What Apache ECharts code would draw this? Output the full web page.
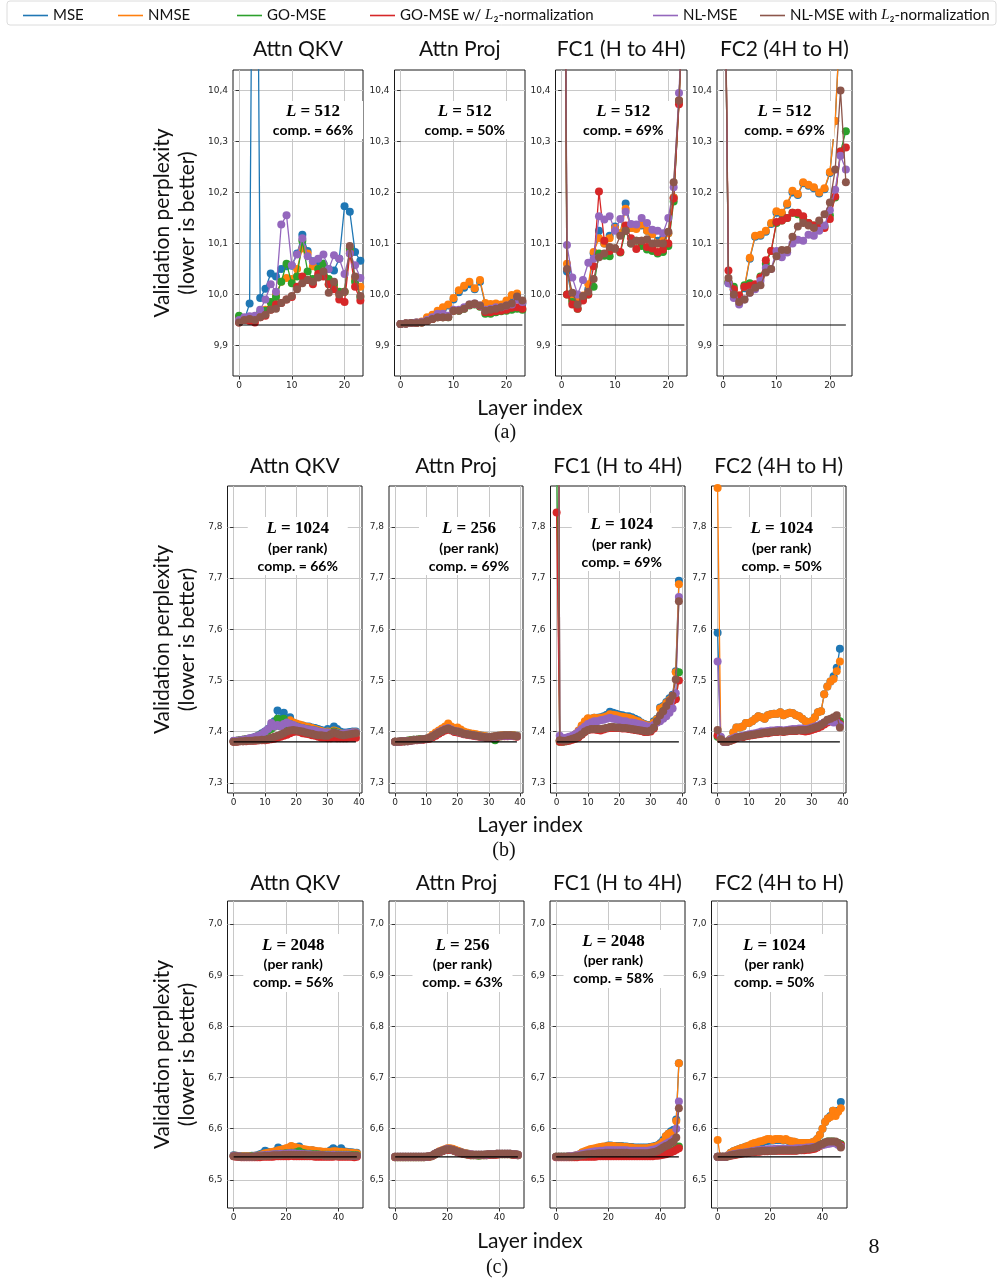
<!DOCTYPE html>
<html>
<head>
<meta charset="utf-8">
<title>Validation perplexity per layer</title>
<script src="https://cdn.jsdelivr.net/npm/echarts@6/dist/echarts.min.js"></script>
<style>
  html, body { margin: 0; padding: 0; background: #fff; }
  #chart { width: 1000px; height: 1280px; }
</style>
</head>
<body>
<div id="chart"></div>
<script>
const SERIES_NAMES = ['MSE', 'NMSE', 'GO-MSE', 'GO-MSE w/ L₂-normalization', 'NL-MSE', 'NL-MSE with L₂-normalization']
const COLORS = ['#1f77b4', '#ff7f0e', '#2ca02c', '#d62728', '#9467bd', '#8c564b']

// tick labels
const yTicksA = [9.9, 10.0, 10.1, 10.2, 10.3, 10.4]
const yTicksB = [7.3, 7.4, 7.5, 7.6, 7.7, 7.8]
const yTicksC = [6.5, 6.6, 6.7, 6.8, 6.9, 7.0]
const xTicksA = [0, 10, 20]
const xTicksB = [0, 10, 20, 30, 40]
const xTicksC = [0, 20, 40]

// dense (uncompressed) baseline perplexity per row
const BASELINES = [9.94, 7.38, 6.545]

// ---- (a) L = 512, 24 layers ----
const a_qkv_mse = [9.955, 9.950, 9.982, 11.50, 9.993, 10.011, 10.041, 10.035, 10.050, 10.055, 10.056, 10.080,
  10.117, 10.085, 10.065, 10.060, 10.060, 10.050, 10.047, 10.070, 10.173, 10.162, 10.083, 10.066]
const a_qkv_nmse = [9.955, 9.950, 9.952, 9.955, 9.960, 9.970, 9.985, 10.000, 10.025, 10.032, 10.030, 10.050,
  10.090, 10.080, 10.055, 10.050, 10.045, 10.020, 10.015, 10.000, 10.005, 10.085, 10.030, 10.015]
const a_qkv_gomse = [9.958, 9.950, 9.952, 9.955, 9.965, 9.968, 9.985, 9.995, 10.025, 10.060, 10.022, 10.035,
  10.105, 10.045, 10.030, 10.050, 10.060, 10.030, 10.020, 10.005, 10.005, 10.090, 10.025, 9.995]
const a_qkv_gol2 = [9.945, 9.950, 9.948, 9.945, 9.955, 9.958, 9.970, 9.980, 9.983, 9.990, 9.995, 10.015,
  10.035, 10.028, 10.020, 10.040, 10.035, 10.020, 10.010, 9.990, 9.985, 10.080, 10.015, 9.988]
const a_qkv_nlmse = [9.950, 9.955, 9.957, 9.958, 9.970, 9.990, 10.020, 10.005, 10.137, 10.155, 10.057, 10.078,
  10.110, 10.075, 10.065, 10.070, 10.078, 10.050, 10.077, 10.070, 10.040, 10.080, 10.057, 10.032]
const a_qkv_nll2 = [9.945, 9.950, 9.952, 9.950, 9.955, 9.960, 9.970, 9.972, 9.983, 9.990, 9.997, 10.010,
  10.022, 10.028, 10.025, 10.033, 10.045, 10.003, 10.025, 10.000, 10.005, 10.095, 10.035, 9.997]

const a_proj_mse = [9.942, 9.943, 9.944, 9.945, 9.946, 9.953, 9.958, 9.965, 9.972, 9.978, 9.990, 10.004,
  10.013, 10.020, 10.010, 10.025, 9.980, 9.978, 9.979, 9.978, 9.985, 9.995, 9.998, 9.982]
const a_proj_nmse = [9.942, 9.943, 9.944, 9.945, 9.947, 9.955, 9.960, 9.968, 9.975, 9.980, 9.993, 10.008,
  10.017, 10.025, 10.012, 10.028, 9.983, 9.981, 9.982, 9.980, 9.988, 9.999, 10.002, 9.985]
const a_proj_gomse = [9.942, 9.943, 9.944, 9.944, 9.945, 9.948, 9.952, 9.955, 9.955, 9.955, 9.968, 9.968,
  9.972, 9.978, 9.980, 9.976, 9.962, 9.962, 9.965, 9.967, 9.968, 9.970, 9.972, 9.970]
const a_proj_gol2 = [9.942, 9.943, 9.944, 9.944, 9.945, 9.948, 9.952, 9.955, 9.955, 9.956, 9.968, 9.969,
  9.973, 9.979, 9.981, 9.977, 9.965, 9.965, 9.967, 9.968, 9.970, 9.974, 9.975, 9.972]
const a_proj_nlmse = [9.942, 9.943, 9.944, 9.945, 9.946, 9.950, 9.955, 9.962, 9.962, 9.958, 9.970, 9.970,
  9.975, 9.980, 9.982, 9.978, 9.970, 9.972, 9.975, 9.975, 9.978, 9.980, 9.990, 9.985]
const a_proj_nll2 = [9.942, 9.943, 9.944, 9.944, 9.945, 9.948, 9.952, 9.955, 9.955, 9.955, 9.968, 9.968,
  9.972, 9.980, 9.982, 9.978, 9.968, 9.970, 9.972, 9.975, 9.978, 9.982, 9.996, 9.988]

const a_fc1_mse = [12.0, 10.045, 9.990, 9.985, 9.995, 10.010, 10.080, 10.125, 10.100, 10.115, 10.133, 10.120,
  10.178, 10.130, 10.130, 10.135, 10.125, 10.120, 10.105, 10.110, 10.120, 10.190, 10.380, 10.650]
const a_fc1_nmse = [12.0, 10.060, 9.990, 9.985, 9.998, 10.020, 10.083, 10.110, 10.100, 10.110, 10.130, 10.120,
  10.168, 10.130, 10.128, 10.137, 10.125, 10.118, 10.100, 10.105, 10.120, 10.190, 10.380, 10.650]
const a_fc1_gomse = [12.0, 10.000, 9.985, 9.972, 9.990, 10.000, 10.015, 10.080, 10.076, 10.075, 10.090, 10.082,
  10.125, 10.100, 10.105, 10.095, 10.088, 10.085, 10.080, 10.083, 10.095, 10.182, 10.378, 10.650]
const a_fc1_gol2 = [12.0, 10.000, 9.980, 9.972, 9.988, 10.000, 10.055, 10.202, 10.105, 10.085, 10.090, 10.083,
  10.135, 10.110, 10.089, 10.105, 10.093, 10.090, 10.083, 10.088, 10.100, 10.188, 10.373, 10.650]
const a_fc1_nlmse = [12.0, 10.097, 10.033, 10.000, 10.028, 10.062, 10.070, 10.153, 10.147, 10.153, 10.125, 10.148,
  10.162, 10.138, 10.137, 10.150, 10.140, 10.127, 10.125, 10.120, 10.150, 10.210, 10.395, 10.650]
const a_fc1_nll2 = [12.0, 10.050, 10.003, 9.980, 9.997, 10.005, 10.030, 10.073, 10.080, 10.093, 10.090, 10.115,
  10.125, 10.100, 10.105, 10.105, 10.108, 10.100, 10.100, 10.100, 10.123, 10.220, 10.380, 10.650]

const a_fc2_mse = [11.0, 10.022, 10.008, 9.995, 10.012, 10.070, 10.113, 10.115, 10.123, 10.138, 10.160, 10.158,
  10.176, 10.200, 10.195, 10.218, 10.213, 10.208, 10.198, 10.206, 10.238, 10.340, 10.550, 10.600]
const a_fc2_nmse = [11.0, 10.025, 10.010, 9.998, 10.015, 10.072, 10.115, 10.117, 10.125, 10.140, 10.163, 10.160,
  10.178, 10.203, 10.197, 10.220, 10.215, 10.210, 10.200, 10.208, 10.240, 10.340, 10.550, 10.600]
const a_fc2_gomse = [11.0, 10.025, 10.015, 9.990, 10.018, 10.022, 10.018, 10.035, 10.060, 10.085, 10.140, 10.145,
  10.150, 10.160, 10.157, 10.148, 10.140, 10.135, 10.130, 10.133, 10.155, 10.190, 10.280, 10.320]
const a_fc2_gol2 = [11.0, 10.047, 10.010, 9.998, 10.015, 10.017, 10.020, 10.033, 10.067, 10.085, 10.142, 10.145,
  10.150, 10.160, 10.160, 10.153, 10.140, 10.135, 10.130, 10.130, 10.148, 10.192, 10.280, 10.288]
const a_fc2_nlmse = [11.0, 10.022, 9.993, 9.980, 9.990, 10.003, 10.010, 10.027, 10.052, 10.050, 10.085, 10.073,
  10.082, 10.100, 10.107, 10.105, 10.117, 10.115, 10.125, 10.135, 10.165, 10.205, 10.272, 10.245]
const a_fc2_nll2 = [11.0, 10.032, 10.000, 9.985, 9.990, 10.003, 10.013, 10.018, 10.043, 10.050, 10.075, 10.087,
  10.087, 10.113, 10.133, 10.140, 10.135, 10.130, 10.145, 10.157, 10.180, 10.245, 10.400, 10.220]

// ---- (b) 40 layers ----
const b_qkv_mse = [7.381, 7.382, 7.383, 7.384, 7.385, 7.386, 7.388, 7.390, 7.393, 7.397,
  7.400, 7.405, 7.412, 7.420, 7.441, 7.425, 7.437, 7.420, 7.428, 7.418,
  7.415, 7.413, 7.412, 7.410, 7.410, 7.408, 7.407, 7.405, 7.403, 7.400,
  7.405, 7.400, 7.410, 7.405, 7.400, 7.398, 7.398, 7.399, 7.400, 7.400]
const b_qkv_nmse = [7.381, 7.382, 7.383, 7.384, 7.385, 7.386, 7.387, 7.389, 7.392, 7.395,
  7.398, 7.402, 7.406, 7.410, 7.414, 7.415, 7.418, 7.420, 7.422, 7.418,
  7.416, 7.414, 7.412, 7.410, 7.409, 7.407, 7.405, 7.403, 7.401, 7.399,
  7.400, 7.398, 7.402, 7.400, 7.397, 7.396, 7.396, 7.397, 7.398, 7.398]
const b_qkv_gomse = [7.381, 7.382, 7.383, 7.384, 7.385, 7.386, 7.387, 7.389, 7.392, 7.395,
  7.398, 7.402, 7.405, 7.410, 7.425, 7.410, 7.425, 7.412, 7.415, 7.412,
  7.410, 7.408, 7.407, 7.405, 7.404, 7.403, 7.402, 7.400, 7.398, 7.397,
  7.398, 7.396, 7.400, 7.398, 7.396, 7.395, 7.395, 7.396, 7.397, 7.397]
const b_qkv_gol2 = [7.380, 7.380, 7.381, 7.381, 7.381, 7.382, 7.382, 7.382, 7.383, 7.383,
  7.383, 7.384, 7.385, 7.386, 7.388, 7.390, 7.392, 7.394, 7.397, 7.399,
  7.400, 7.399, 7.397, 7.396, 7.395, 7.393, 7.392, 7.390, 7.388, 7.388,
  7.387, 7.387, 7.388, 7.387, 7.387, 7.387, 7.387, 7.388, 7.388, 7.388]
const b_qkv_nlmse = [7.382, 7.382, 7.383, 7.384, 7.385, 7.387, 7.388, 7.390, 7.392, 7.395,
  7.400, 7.405, 7.417, 7.410, 7.413, 7.410, 7.415, 7.418, 7.415, 7.413,
  7.410, 7.408, 7.407, 7.405, 7.404, 7.403, 7.402, 7.400, 7.399, 7.398,
  7.398, 7.397, 7.398, 7.397, 7.396, 7.396, 7.397, 7.397, 7.398, 7.398]
const b_qkv_nll2 = [7.380, 7.380, 7.381, 7.381, 7.382, 7.382, 7.382, 7.383, 7.383, 7.384,
  7.384, 7.385, 7.388, 7.390, 7.392, 7.394, 7.397, 7.400, 7.402, 7.403,
  7.402, 7.401, 7.400, 7.398, 7.397, 7.396, 7.394, 7.393, 7.393, 7.392,
  7.392, 7.395, 7.398, 7.396, 7.394, 7.393, 7.394, 7.395, 7.396, 7.397]

const b_proj_mse = [7.380, 7.380, 7.381, 7.381, 7.382, 7.383, 7.384, 7.384, 7.385, 7.385,
  7.386, 7.388, 7.392, 7.396, 7.400, 7.404, 7.408, 7.412, 7.408, 7.405,
  7.406, 7.403, 7.399, 7.397, 7.396, 7.395, 7.394, 7.393, 7.392, 7.391,
  7.390, 7.390, 7.391, 7.392, 7.393, 7.393, 7.393, 7.393, 7.393, 7.392]
const b_proj_nmse = [7.380, 7.380, 7.381, 7.381, 7.382, 7.383, 7.384, 7.384, 7.385, 7.385,
  7.386, 7.389, 7.394, 7.398, 7.402, 7.406, 7.410, 7.416, 7.410, 7.406,
  7.408, 7.404, 7.400, 7.398, 7.397, 7.396, 7.395, 7.393, 7.392, 7.391,
  7.390, 7.390, 7.391, 7.392, 7.393, 7.393, 7.393, 7.393, 7.393, 7.392]
const b_proj_gomse = [7.380, 7.380, 7.381, 7.381, 7.382, 7.383, 7.384, 7.384, 7.385, 7.385,
  7.386, 7.387, 7.390, 7.393, 7.397, 7.400, 7.403, 7.405, 7.403, 7.400,
  7.399, 7.398, 7.396, 7.395, 7.394, 7.393, 7.392, 7.391, 7.390, 7.389,
  7.389, 7.388, 7.383, 7.390, 7.391, 7.392, 7.392, 7.392, 7.392, 7.391]
const b_proj_gol2 = [7.380, 7.380, 7.380, 7.381, 7.381, 7.382, 7.383, 7.383, 7.384, 7.384,
  7.385, 7.386, 7.389, 7.392, 7.396, 7.399, 7.402, 7.404, 7.402, 7.399,
  7.398, 7.397, 7.395, 7.394, 7.393, 7.392, 7.391, 7.390, 7.389, 7.388,
  7.388, 7.388, 7.389, 7.390, 7.391, 7.391, 7.391, 7.392, 7.391, 7.390]
const b_proj_nlmse = [7.380, 7.380, 7.381, 7.381, 7.381, 7.382, 7.383, 7.384, 7.384, 7.385,
  7.386, 7.388, 7.391, 7.395, 7.399, 7.402, 7.405, 7.407, 7.404, 7.401,
  7.400, 7.398, 7.396, 7.395, 7.394, 7.393, 7.392, 7.391, 7.390, 7.389,
  7.389, 7.389, 7.390, 7.391, 7.392, 7.392, 7.392, 7.392, 7.392, 7.391]
const b_proj_nll2 = [7.380, 7.380, 7.381, 7.381, 7.381, 7.382, 7.383, 7.384, 7.384, 7.385,
  7.386, 7.388, 7.391, 7.395, 7.398, 7.401, 7.404, 7.406, 7.403, 7.401,
  7.400, 7.398, 7.396, 7.395, 7.394, 7.393, 7.392, 7.391, 7.390, 7.389,
  7.389, 7.390, 7.391, 7.392, 7.392, 7.393, 7.393, 7.393, 7.392, 7.391]

const b_fc1_mse = [9.500, 7.383, 7.382, 7.383, 7.386, 7.390, 7.395, 7.400, 7.410, 7.418,
  7.425, 7.425, 7.427, 7.427, 7.428, 7.430, 7.433, 7.439, 7.437, 7.435,
  7.433, 7.432, 7.430, 7.430, 7.428, 7.425, 7.422, 7.418, 7.415, 7.413,
  7.413, 7.420, 7.425, 7.447, 7.450, 7.458, 7.465, 7.472, 7.518, 7.695]
const b_fc1_nmse = [9.500, 7.383, 7.382, 7.383, 7.386, 7.390, 7.395, 7.402, 7.412, 7.420,
  7.426, 7.425, 7.427, 7.426, 7.427, 7.428, 7.430, 7.434, 7.433, 7.432,
  7.430, 7.429, 7.428, 7.427, 7.425, 7.422, 7.420, 7.417, 7.414, 7.412,
  7.412, 7.418, 7.424, 7.445, 7.448, 7.456, 7.462, 7.470, 7.516, 7.688]
const b_fc1_gomse = [7.950, 7.380, 7.380, 7.381, 7.383, 7.385, 7.387, 7.390, 7.395, 7.400,
  7.405, 7.405, 7.405, 7.405, 7.403, 7.405, 7.407, 7.408, 7.408, 7.408,
  7.408, 7.407, 7.407, 7.406, 7.405, 7.404, 7.403, 7.402, 7.400, 7.400,
  7.402, 7.408, 7.420, 7.430, 7.440, 7.445, 7.455, 7.462, 7.465, 7.516]
const b_fc1_gol2 = [7.828, 7.380, 7.380, 7.381, 7.382, 7.384, 7.386, 7.389, 7.394, 7.399,
  7.403, 7.404, 7.404, 7.403, 7.402, 7.404, 7.406, 7.407, 7.407, 7.407,
  7.407, 7.406, 7.406, 7.405, 7.404, 7.403, 7.402, 7.401, 7.399, 7.399,
  7.400, 7.406, 7.418, 7.428, 7.438, 7.443, 7.452, 7.460, 7.463, 7.500]
const b_fc1_nlmse = [9.500, 7.392, 7.387, 7.388, 7.390, 7.392, 7.395, 7.400, 7.405, 7.410,
  7.415, 7.418, 7.420, 7.420, 7.422, 7.423, 7.425, 7.427, 7.425, 7.424,
  7.422, 7.420, 7.420, 7.418, 7.418, 7.417, 7.415, 7.414, 7.412, 7.410,
  7.410, 7.413, 7.418, 7.420, 7.425, 7.430, 7.437, 7.445, 7.475, 7.663]
const b_fc1_nll2 = [9.500, 7.383, 7.382, 7.382, 7.384, 7.386, 7.388, 7.391, 7.395, 7.400,
  7.403, 7.405, 7.405, 7.405, 7.405, 7.406, 7.407, 7.409, 7.409, 7.408,
  7.408, 7.407, 7.407, 7.406, 7.405, 7.404, 7.403, 7.402, 7.401, 7.400,
  7.402, 7.408, 7.420, 7.432, 7.440, 7.450, 7.460, 7.470, 7.502, 7.655]

const b_fc2_mse = [7.593, 7.388, 7.380, 7.380, 7.385, 7.398, 7.408, 7.408, 7.410, 7.417,
  7.417, 7.420, 7.425, 7.430, 7.428, 7.425, 7.432, 7.434, 7.435, 7.435,
  7.438, 7.432, 7.435, 7.437, 7.436, 7.432, 7.430, 7.425, 7.420, 7.418,
  7.420, 7.428, 7.438, 7.440, 7.473, 7.488, 7.498, 7.508, 7.525, 7.562]
const b_fc2_nmse = [7.876, 7.388, 7.380, 7.380, 7.385, 7.398, 7.408, 7.408, 7.410, 7.417,
  7.417, 7.420, 7.425, 7.430, 7.428, 7.425, 7.432, 7.434, 7.435, 7.435,
  7.438, 7.432, 7.435, 7.437, 7.436, 7.432, 7.430, 7.425, 7.420, 7.418,
  7.420, 7.428, 7.438, 7.440, 7.473, 7.488, 7.498, 7.503, 7.518, 7.537]
const b_fc2_gomse = [7.390, 7.385, 7.380, 7.380, 7.382, 7.385, 7.388, 7.390, 7.390, 7.392,
  7.393, 7.394, 7.395, 7.396, 7.397, 7.398, 7.398, 7.399, 7.400, 7.400,
  7.401, 7.400, 7.401, 7.402, 7.402, 7.402, 7.403, 7.403, 7.402, 7.403,
  7.405, 7.407, 7.409, 7.412, 7.416, 7.420, 7.422, 7.424, 7.425, 7.420]
const b_fc2_gol2 = [7.393, 7.385, 7.380, 7.380, 7.382, 7.384, 7.387, 7.389, 7.389, 7.391,
  7.392, 7.393, 7.394, 7.395, 7.396, 7.397, 7.397, 7.398, 7.399, 7.399,
  7.400, 7.399, 7.400, 7.401, 7.401, 7.401, 7.402, 7.401, 7.400, 7.401,
  7.403, 7.405, 7.407, 7.410, 7.414, 7.418, 7.420, 7.421, 7.422, 7.415]
const b_fc2_nlmse = [7.537, 7.390, 7.380, 7.380, 7.384, 7.387, 7.390, 7.390, 7.392, 7.393,
  7.395, 7.396, 7.397, 7.398, 7.400, 7.400, 7.401, 7.402, 7.402, 7.403,
  7.403, 7.402, 7.403, 7.404, 7.405, 7.405, 7.406, 7.406, 7.405, 7.406,
  7.408, 7.410, 7.412, 7.415, 7.418, 7.420, 7.420, 7.418, 7.418, 7.413]
const b_fc2_nll2 = [7.403, 7.385, 7.380, 7.380, 7.382, 7.385, 7.388, 7.390, 7.390, 7.392,
  7.393, 7.394, 7.395, 7.396, 7.397, 7.398, 7.398, 7.399, 7.400, 7.400,
  7.401, 7.400, 7.401, 7.402, 7.402, 7.402, 7.403, 7.403, 7.403, 7.404,
  7.406, 7.408, 7.410, 7.413, 7.418, 7.423, 7.425, 7.428, 7.432, 7.408]

// ---- (c) 48 layers ----
const c_qkv_mse = [6.548, 6.547, 6.546, 6.546, 6.546, 6.546, 6.546, 6.547, 6.547, 6.548, 6.550, 6.552,
  6.557, 6.555, 6.553, 6.554, 6.556, 6.563, 6.558, 6.560, 6.561, 6.562, 6.565, 6.560,
  6.561, 6.565, 6.560, 6.558, 6.557, 6.556, 6.558, 6.556, 6.555, 6.555, 6.554, 6.554,
  6.555, 6.558, 6.562, 6.558, 6.557, 6.562, 6.556, 6.555, 6.554, 6.554, 6.553, 6.553]
const c_qkv_nmse = [6.547, 6.547, 6.546, 6.546, 6.546, 6.546, 6.546, 6.546, 6.547, 6.547, 6.548, 6.550,
  6.552, 6.553, 6.554, 6.555, 6.556, 6.558, 6.559, 6.560, 6.562, 6.563, 6.566, 6.564,
  6.563, 6.562, 6.561, 6.560, 6.559, 6.558, 6.558, 6.557, 6.556, 6.556, 6.555, 6.555,
  6.555, 6.555, 6.556, 6.556, 6.555, 6.555, 6.554, 6.554, 6.553, 6.553, 6.552, 6.552]
const c_qkv_gomse = [6.547, 6.546, 6.546, 6.545, 6.545, 6.545, 6.545, 6.546, 6.546, 6.546, 6.547, 6.547,
  6.548, 6.548, 6.549, 6.549, 6.550, 6.550, 6.551, 6.551, 6.552, 6.552, 6.553, 6.553,
  6.554, 6.556, 6.553, 6.552, 6.551, 6.551, 6.550, 6.550, 6.550, 6.549, 6.549, 6.549,
  6.549, 6.549, 6.549, 6.549, 6.549, 6.549, 6.549, 6.549, 6.549, 6.548, 6.548, 6.548]
const c_qkv_gol2 = [6.546, 6.545, 6.545, 6.544, 6.544, 6.544, 6.544, 6.544, 6.544, 6.544, 6.544, 6.545,
  6.545, 6.545, 6.545, 6.545, 6.546, 6.546, 6.546, 6.546, 6.546, 6.546, 6.547, 6.546,
  6.546, 6.546, 6.546, 6.546, 6.546, 6.546, 6.546, 6.545, 6.545, 6.545, 6.545, 6.545,
  6.545, 6.545, 6.545, 6.546, 6.545, 6.545, 6.545, 6.545, 6.545, 6.545, 6.544, 6.545]
const c_qkv_nlmse = [6.547, 6.546, 6.546, 6.545, 6.545, 6.545, 6.545, 6.545, 6.546, 6.546, 6.547, 6.548,
  6.548, 6.549, 6.549, 6.550, 6.550, 6.550, 6.551, 6.551, 6.551, 6.552, 6.552, 6.552,
  6.551, 6.551, 6.551, 6.550, 6.550, 6.550, 6.549, 6.549, 6.549, 6.549, 6.548, 6.548,
  6.548, 6.548, 6.549, 6.548, 6.548, 6.548, 6.548, 6.548, 6.548, 6.547, 6.547, 6.547]
const c_qkv_nll2 = [6.546, 6.546, 6.545, 6.545, 6.545, 6.545, 6.545, 6.545, 6.545, 6.546, 6.546, 6.546,
  6.547, 6.547, 6.547, 6.548, 6.548, 6.548, 6.548, 6.549, 6.549, 6.549, 6.549, 6.549,
  6.549, 6.549, 6.549, 6.549, 6.548, 6.548, 6.548, 6.548, 6.548, 6.548, 6.548, 6.547,
  6.547, 6.547, 6.547, 6.547, 6.547, 6.547, 6.547, 6.547, 6.547, 6.547, 6.547, 6.547]

const c_proj_mse = [6.545, 6.545, 6.545, 6.545, 6.545, 6.545, 6.545, 6.545, 6.545, 6.545, 6.545, 6.545,
  6.545, 6.546, 6.547, 6.550, 6.553, 6.555, 6.557, 6.559, 6.561, 6.561, 6.560, 6.558,
  6.556, 6.555, 6.553, 6.552, 6.551, 6.550, 6.549, 6.549, 6.549, 6.549, 6.549, 6.549,
  6.550, 6.550, 6.550, 6.551, 6.551, 6.551, 6.551, 6.551, 6.551, 6.550, 6.550, 6.549]
const c_proj_nmse = [6.545, 6.545, 6.545, 6.545, 6.545, 6.545, 6.545, 6.545, 6.545, 6.545, 6.545, 6.545,
  6.545, 6.546, 6.547, 6.550, 6.553, 6.556, 6.558, 6.560, 6.562, 6.562, 6.561, 6.559,
  6.557, 6.555, 6.553, 6.552, 6.551, 6.550, 6.549, 6.549, 6.549, 6.549, 6.549, 6.549,
  6.550, 6.550, 6.550, 6.551, 6.551, 6.551, 6.551, 6.551, 6.551, 6.550, 6.550, 6.549]
const c_proj_gomse = [6.544, 6.544, 6.544, 6.544, 6.544, 6.544, 6.544, 6.544, 6.544, 6.544, 6.544, 6.544,
  6.545, 6.545, 6.546, 6.549, 6.552, 6.554, 6.556, 6.558, 6.559, 6.559, 6.558, 6.556,
  6.554, 6.553, 6.551, 6.550, 6.549, 6.548, 6.548, 6.548, 6.547, 6.548, 6.548, 6.548,
  6.549, 6.549, 6.549, 6.550, 6.550, 6.550, 6.550, 6.550, 6.550, 6.549, 6.549, 6.548]
const c_proj_gol2 = [6.544, 6.544, 6.544, 6.544, 6.544, 6.544, 6.544, 6.544, 6.544, 6.544, 6.544, 6.544,
  6.545, 6.545, 6.546, 6.549, 6.552, 6.554, 6.556, 6.558, 6.559, 6.559, 6.558, 6.556,
  6.554, 6.552, 6.551, 6.550, 6.549, 6.548, 6.548, 6.548, 6.548, 6.548, 6.548, 6.548,
  6.549, 6.549, 6.549, 6.549, 6.550, 6.550, 6.550, 6.550, 6.550, 6.549, 6.549, 6.548]
const c_proj_nlmse = [6.545, 6.545, 6.545, 6.545, 6.545, 6.545, 6.545, 6.545, 6.545, 6.545, 6.545, 6.545,
  6.545, 6.546, 6.547, 6.550, 6.553, 6.555, 6.557, 6.559, 6.561, 6.560, 6.559, 6.557,
  6.555, 6.554, 6.552, 6.551, 6.550, 6.550, 6.549, 6.549, 6.549, 6.549, 6.549, 6.549,
  6.550, 6.550, 6.550, 6.551, 6.551, 6.551, 6.551, 6.551, 6.551, 6.550, 6.550, 6.549]
const c_proj_nll2 = [6.545, 6.545, 6.545, 6.545, 6.545, 6.545, 6.545, 6.545, 6.545, 6.545, 6.545, 6.545,
  6.545, 6.546, 6.547, 6.550, 6.553, 6.555, 6.557, 6.559, 6.560, 6.560, 6.559, 6.557,
  6.555, 6.554, 6.552, 6.551, 6.550, 6.549, 6.549, 6.549, 6.549, 6.549, 6.549, 6.550,
  6.550, 6.550, 6.550, 6.551, 6.551, 6.551, 6.551, 6.551, 6.551, 6.550, 6.550, 6.549]

const c_fc1_mse = [6.545, 6.545, 6.545, 6.545, 6.545, 6.546, 6.546, 6.547, 6.548, 6.550, 6.553, 6.555,
  6.557, 6.559, 6.560, 6.561, 6.562, 6.563, 6.564, 6.565, 6.567, 6.567, 6.566, 6.566,
  6.566, 6.566, 6.565, 6.565, 6.564, 6.564, 6.563, 6.563, 6.563, 6.563, 6.563, 6.563,
  6.564, 6.565, 6.566, 6.568, 6.572, 6.578, 6.585, 6.590, 6.595, 6.598, 6.618, 6.728]
const c_fc1_nmse = [6.545, 6.545, 6.545, 6.545, 6.545, 6.546, 6.546, 6.547, 6.548, 6.550, 6.554, 6.556,
  6.558, 6.560, 6.561, 6.562, 6.563, 6.564, 6.565, 6.565, 6.566, 6.566, 6.566, 6.565,
  6.565, 6.565, 6.564, 6.564, 6.563, 6.563, 6.562, 6.562, 6.562, 6.562, 6.562, 6.562,
  6.563, 6.564, 6.565, 6.567, 6.570, 6.575, 6.585, 6.590, 6.592, 6.593, 6.615, 6.728]
const c_fc1_gomse = [6.545, 6.545, 6.545, 6.545, 6.545, 6.545, 6.545, 6.546, 6.546, 6.547, 6.547, 6.548,
  6.548, 6.549, 6.549, 6.549, 6.550, 6.550, 6.550, 6.550, 6.550, 6.550, 6.550, 6.550,
  6.550, 6.550, 6.550, 6.550, 6.549, 6.549, 6.549, 6.549, 6.549, 6.549, 6.549, 6.549,
  6.549, 6.550, 6.550, 6.551, 6.551, 6.552, 6.553, 6.554, 6.556, 6.558, 6.561, 6.565]
const c_fc1_gol2 = [6.544, 6.544, 6.544, 6.544, 6.544, 6.544, 6.544, 6.544, 6.544, 6.545, 6.545, 6.545,
  6.545, 6.545, 6.545, 6.545, 6.546, 6.546, 6.546, 6.546, 6.546, 6.546, 6.546, 6.546,
  6.546, 6.546, 6.546, 6.546, 6.546, 6.546, 6.546, 6.546, 6.546, 6.546, 6.546, 6.546,
  6.546, 6.546, 6.547, 6.547, 6.548, 6.549, 6.550, 6.552, 6.554, 6.556, 6.559, 6.562]
const c_fc1_nlmse = [6.545, 6.545, 6.545, 6.545, 6.545, 6.546, 6.546, 6.547, 6.548, 6.549, 6.551, 6.552,
  6.553, 6.554, 6.555, 6.556, 6.556, 6.557, 6.557, 6.558, 6.558, 6.558, 6.558, 6.558,
  6.558, 6.558, 6.558, 6.558, 6.557, 6.557, 6.557, 6.557, 6.557, 6.557, 6.557, 6.557,
  6.558, 6.559, 6.560, 6.562, 6.564, 6.567, 6.570, 6.573, 6.575, 6.580, 6.600, 6.653]
const c_fc1_nll2 = [6.545, 6.545, 6.545, 6.545, 6.545, 6.545, 6.545, 6.546, 6.546, 6.547, 6.548, 6.549,
  6.550, 6.550, 6.551, 6.551, 6.552, 6.552, 6.552, 6.553, 6.553, 6.553, 6.553, 6.553,
  6.553, 6.553, 6.553, 6.553, 6.552, 6.552, 6.552, 6.552, 6.552, 6.552, 6.552, 6.552,
  6.553, 6.554, 6.555, 6.557, 6.560, 6.563, 6.566, 6.568, 6.572, 6.575, 6.583, 6.640]

const c_fc2_mse = [6.545, 6.545, 6.545, 6.545, 6.548, 6.553, 6.556, 6.558, 6.560, 6.562, 6.563, 6.565,
  6.566, 6.568, 6.570, 6.571, 6.572, 6.573, 6.575, 6.576, 6.577, 6.577, 6.578, 6.578,
  6.578, 6.577, 6.578, 6.576, 6.575, 6.574, 6.573, 6.572, 6.572, 6.572, 6.572, 6.572,
  6.573, 6.575, 6.580, 6.588, 6.600, 6.613, 6.620, 6.625, 6.635, 6.628, 6.635, 6.652]
const c_fc2_nmse = [6.578, 6.545, 6.545, 6.545, 6.548, 6.553, 6.556, 6.558, 6.560, 6.562, 6.563, 6.565,
  6.567, 6.570, 6.572, 6.573, 6.575, 6.576, 6.578, 6.580, 6.580, 6.578, 6.580, 6.580,
  6.580, 6.578, 6.580, 6.577, 6.575, 6.575, 6.573, 6.572, 6.572, 6.572, 6.572, 6.572,
  6.573, 6.575, 6.580, 6.588, 6.600, 6.613, 6.620, 6.623, 6.635, 6.625, 6.633, 6.640]
const c_fc2_gomse = [6.545, 6.545, 6.545, 6.545, 6.546, 6.548, 6.549, 6.550, 6.551, 6.552, 6.553, 6.553,
  6.554, 6.555, 6.555, 6.556, 6.556, 6.557, 6.557, 6.557, 6.558, 6.558, 6.558, 6.558,
  6.558, 6.558, 6.558, 6.558, 6.558, 6.558, 6.558, 6.559, 6.559, 6.559, 6.560, 6.560,
  6.561, 6.562, 6.564, 6.567, 6.570, 6.573, 6.575, 6.575, 6.575, 6.574, 6.572, 6.570]
const c_fc2_gol2 = [6.545, 6.545, 6.545, 6.545, 6.546, 6.547, 6.548, 6.549, 6.550, 6.551, 6.552, 6.552,
  6.553, 6.554, 6.554, 6.555, 6.555, 6.556, 6.556, 6.556, 6.557, 6.557, 6.557, 6.557,
  6.557, 6.557, 6.557, 6.557, 6.557, 6.557, 6.557, 6.558, 6.558, 6.558, 6.559, 6.559,
  6.560, 6.561, 6.563, 6.566, 6.569, 6.572, 6.574, 6.574, 6.574, 6.573, 6.570, 6.568]
const c_fc2_nlmse = [6.545, 6.545, 6.545, 6.545, 6.547, 6.549, 6.550, 6.551, 6.552, 6.553, 6.553, 6.554,
  6.555, 6.556, 6.557, 6.558, 6.558, 6.559, 6.559, 6.560, 6.560, 6.560, 6.561, 6.561,
  6.561, 6.561, 6.561, 6.561, 6.561, 6.561, 6.562, 6.562, 6.562, 6.562, 6.563, 6.563,
  6.564, 6.564, 6.565, 6.567, 6.568, 6.569, 6.570, 6.571, 6.572, 6.571, 6.568, 6.565]
const c_fc2_nll2 = [6.545, 6.545, 6.545, 6.545, 6.546, 6.548, 6.549, 6.550, 6.551, 6.552, 6.552, 6.553,
  6.554, 6.555, 6.555, 6.556, 6.556, 6.557, 6.557, 6.557, 6.557, 6.557, 6.557, 6.558,
  6.558, 6.558, 6.558, 6.558, 6.558, 6.558, 6.558, 6.559, 6.559, 6.560, 6.561, 6.561,
  6.562, 6.563, 6.565, 6.568, 6.570, 6.573, 6.575, 6.575, 6.575, 6.575, 6.572, 6.563]

const PANEL_TITLES = ['Attn QKV', 'Attn Proj', 'FC1 (H to 4H)', 'FC2 (4H to H)']
const PANELS = [
  { row: 0, col: 0, L: '512', comp: '66%', values: [a_qkv_mse, a_qkv_nmse, a_qkv_gomse, a_qkv_gol2, a_qkv_nlmse, a_qkv_nll2] },
  { row: 0, col: 1, L: '512', comp: '50%', values: [a_proj_mse, a_proj_nmse, a_proj_gomse, a_proj_gol2, a_proj_nlmse, a_proj_nll2] },
  { row: 0, col: 2, L: '512', comp: '69%', values: [a_fc1_mse, a_fc1_nmse, a_fc1_gomse, a_fc1_gol2, a_fc1_nlmse, a_fc1_nll2] },
  { row: 0, col: 3, L: '512', comp: '69%', values: [a_fc2_mse, a_fc2_nmse, a_fc2_gomse, a_fc2_gol2, a_fc2_nlmse, a_fc2_nll2] },
  { row: 1, col: 0, L: '1024', comp: '66%', values: [b_qkv_mse, b_qkv_nmse, b_qkv_gomse, b_qkv_gol2, b_qkv_nlmse, b_qkv_nll2] },
  { row: 1, col: 1, L: '256', comp: '69%', values: [b_proj_mse, b_proj_nmse, b_proj_gomse, b_proj_gol2, b_proj_nlmse, b_proj_nll2] },
  { row: 1, col: 2, L: '1024', comp: '69%', values: [b_fc1_mse, b_fc1_nmse, b_fc1_gomse, b_fc1_gol2, b_fc1_nlmse, b_fc1_nll2] },
  { row: 1, col: 3, L: '1024', comp: '50%', values: [b_fc2_mse, b_fc2_nmse, b_fc2_gomse, b_fc2_gol2, b_fc2_nlmse, b_fc2_nll2] },
  { row: 2, col: 0, L: '2048', comp: '56%', values: [c_qkv_mse, c_qkv_nmse, c_qkv_gomse, c_qkv_gol2, c_qkv_nlmse, c_qkv_nll2] },
  { row: 2, col: 1, L: '256', comp: '63%', values: [c_proj_mse, c_proj_nmse, c_proj_gomse, c_proj_gol2, c_proj_nlmse, c_proj_nll2] },
  { row: 2, col: 2, L: '2048', comp: '58%', values: [c_fc1_mse, c_fc1_nmse, c_fc1_gomse, c_fc1_gol2, c_fc1_nlmse, c_fc1_nll2] },
  { row: 2, col: 3, L: '1024', comp: '50%', values: [c_fc2_mse, c_fc2_nmse, c_fc2_gomse, c_fc2_gol2, c_fc2_nlmse, c_fc2_nll2] }
]

// layout of the three rows of panels (pixels)
const ROWS = [
  { top: 70, bottom: 376, yMin: 9.84, yMax: 10.44, yTicks: yTicksA, xMin: -1.15, xTicks: xTicksA,
    cols: [[233, 363, 23.5], [394.5, 525, 23.5], [555.5, 687, 23.5], [717, 852, 24.15]],
    titleY: 49, boxTop: 101, lineY: [112, 130], shortBox: true, axisNameY: 408, tagY: 433, tag: '(a)', tagX: 505 },
  { top: 486, bottom: 793, yMin: 7.28, yMax: 7.88, yTicks: yTicksB, xMin: -1.95, xTicks: xTicksB,
    cols: [[227.5, 362, 40.95], [389, 523, 40.95], [550.5, 685, 40.95], [711.5, 846, 40.95]],
    titleY: 466, boxTop: 517, lineY: [529, 548, 566], shortBox: false, axisNameY: 825, tagY: 851, tag: '(b)', tagX: 504 },
  { top: 901, bottom: 1208, yMin: 6.445, yMax: 7.045, yTicks: yTicksC, xMin: -2.35, xTicks: xTicksC,
    cols: [[227.5, 363, 49.35], [389, 524, 49.35], [550, 685, 49.35], [711.5, 847, 49.35]],
    titleY: 883, boxTop: 934, lineY: [946, 964, 982], shortBox: false, axisNameY: 1241, tagY: 1268, tag: '(c)', tagX: 497 }
]
const BOX_CENTER_SHIFT = [[15, 5, 2, 0], [3, 13, 4, 3], [-2, 6, -4, -5]]
const FC1_LIFT = [0, 4, 4]

const SANS = 'Lato, "Open Sans", sans-serif'
const SERIF = '"Liberation Serif", "DejaVu Serif", serif'

const chart = echarts.init(document.getElementById('chart'))

const grids = []
const xAxes = []
const yAxes = []
const series = []
const graphics = []

// legend frame
graphics.push({ type: 'rect', z: 0, shape: { x: 7, y: 1, width: 989, height: 24, r: 3 },
  style: { fill: '#fff', stroke: '#dcdcdc', lineWidth: 1 } })

PANELS.forEach((p, k) => {
  const row = ROWS[p.row]
  const [left, right, xMax] = row.cols[p.col]
  const fmtY = v => v.toFixed(1).replace('.', ',')
  grids.push({
    left: left, top: row.top, width: right - left, height: row.bottom - row.top,
    show: true, borderColor: '#1a1a1a', borderWidth: 1, backgroundColor: '#fff',
    containLabel: false, outerBoundsMode: 'none'
  })
  xAxes.push({
    type: 'value', gridIndex: k, min: row.xMin, max: xMax,
    axisLine: { show: false },
    axisTick: { show: true, inside: false, length: 3.5, customValues: row.xTicks, lineStyle: { color: '#333' } },
    axisLabel: { customValues: row.xTicks, fontSize: 9, fontFamily: '"DejaVu Sans", sans-serif', color: '#262626', margin: 5 },
    splitLine: { show: true, lineStyle: { color: '#c8c8c8', width: 1 } }
  })
  yAxes.push({
    type: 'value', gridIndex: k, min: row.yMin, max: row.yMax,
    axisLine: { show: false },
    axisTick: { show: true, inside: false, length: 3.5, customValues: row.yTicks, lineStyle: { color: '#333' } },
    axisLabel: { customValues: row.yTicks, formatter: fmtY, fontSize: 9, fontFamily: '"DejaVu Sans", sans-serif', color: '#262626', margin: 5 },
    splitLine: { show: true, lineStyle: { color: '#c8c8c8', width: 1 } }
  })
  p.values.forEach((vals, s) => {
    series.push({
      name: SERIES_NAMES[s], type: 'line', xAxisIndex: k, yAxisIndex: k,
      data: vals.map((v, i) => [i, v]),
      symbol: 'circle', symbolSize: 8, showSymbol: true, clip: true,
      z: 2 + s,
      lineStyle: { color: COLORS[s], width: 1.3 },
      itemStyle: { color: COLORS[s] },
      emphasis: { disabled: true }, animation: false, silent: true
    })
  })
  const last = p.values[0].length - 1
  series.push({
    name: 'baseline', type: 'line', xAxisIndex: k, yAxisIndex: k,
    data: [[0, BASELINES[p.row]], [last, BASELINES[p.row]]],
    showSymbol: false, z: 20, lineStyle: { color: '#000', width: 1.2 },
    emphasis: { disabled: true }, animation: false, silent: true
  })

  // panel title
  graphics.push({ type: 'text', z: 60, x: (left + right) / 2, y: row.titleY,
    style: { text: PANEL_TITLES[p.col], font: '21px ' + SANS, fill: '#111', align: 'center', verticalAlign: 'middle' } })

  // annotation box
  const cx = (left + right) / 2 + BOX_CENTER_SHIFT[p.row][p.col]
  const lift = p.col === 2 ? FC1_LIFT[p.row] : 0
  const boxH = row.shortBox ? 38 : 58
  graphics.push({ type: 'rect', z: 50, shape: { x: cx - 50, y: row.boxTop - lift, width: 100, height: boxH },
    style: { fill: '#fff' } })
  const lines = row.shortBox
    ? ['{i|L}{m| = ' + p.L + '}', '{c|comp. = ' + p.comp + '}']
    : ['{i|L}{m| = ' + p.L + '}', '{c|(per rank)}', '{c|comp. = ' + p.comp + '}']
  lines.forEach((t, j) => {
    graphics.push({ type: 'text', z: 55, x: cx, y: row.lineY[j] - lift,
      style: {
        text: t, align: 'center', verticalAlign: 'middle',
        rich: {
          i: { fontFamily: SERIF, fontStyle: 'italic', fontWeight: 'bold', fontSize: 17, fill: '#000' },
          m: { fontFamily: SERIF, fontWeight: 'bold', fontSize: 17, fill: '#000' },
          c: { fontFamily: SANS, fontWeight: 'bold', fontSize: 14, fill: '#000' }
        }
      } })
  })
})

// row-level texts
ROWS.forEach(row => {
  const midY = (row.top + row.bottom) / 2
  graphics.push({ type: 'text', z: 60, x: 175, y: midY, rotation: Math.PI / 2,
    style: { text: 'Validation perplexity\n(lower is better)', font: '21px ' + SANS, fill: '#111',
      align: 'center', verticalAlign: 'middle', lineHeight: 25 } })
  graphics.push({ type: 'text', z: 60, x: 530, y: row.axisNameY,
    style: { text: 'Layer index', font: '21px ' + SANS, fill: '#111', align: 'center', verticalAlign: 'middle' } })
  graphics.push({ type: 'text', z: 60, x: row.tagX, y: row.tagY,
    style: { text: row.tag, font: '20px ' + SERIF, fill: '#111', align: 'center', verticalAlign: 'middle' } })
})
graphics.push({ type: 'text', z: 60, x: 874, y: 1247,
  style: { text: '8', font: '22px ' + SERIF, fill: '#111', align: 'center', verticalAlign: 'middle' } })

const LEGEND_X = [18, 113, 232, 365, 648, 755]
const legends = SERIES_NAMES.map((name, i) => ({
  data: [name], left: LEGEND_X[i], top: 3, orient: 'horizontal',
  icon: 'rect', itemWidth: 25, itemHeight: 1.6, selectedMode: false,
  formatter: n => n.replace('L₂', '{i|L}₂'),
  textStyle: {
    fontFamily: SANS, fontSize: 15, color: '#111',
    rich: { i: { fontFamily: SERIF, fontStyle: 'italic', fontSize: 15, color: '#111' } }
  }
}))

chart.setOption({
  backgroundColor: '#fff',
  animation: false,
  legend: legends,
  grid: grids,
  xAxis: xAxes,
  yAxis: yAxes,
  series: series,
  graphic: { elements: graphics }
})
</script>
</body>
</html>
